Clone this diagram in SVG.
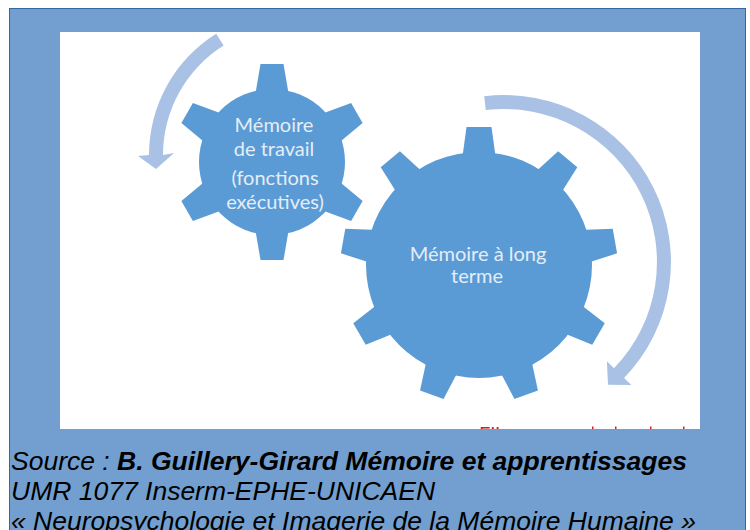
<svg xmlns="http://www.w3.org/2000/svg" width="750" height="530" viewBox="0 0 750 530">
<defs>
<style>
.gear{fill:#5b9bd5}
.glabel{font-family:Lato,"Open Sans","Liberation Sans",sans-serif;font-size:20px;fill:#e4edf7;text-anchor:middle}
.arrow{fill:#a9c1e4}
.cap{font-family:"Liberation Sans",Arial,sans-serif;font-size:26.5px;font-style:italic;fill:#000}
</style>
<polygon id="toothS" points="-17,-66 -11.5,-98 11.5,-98 17,-66"/>
<polygon id="toothL" points="-17,-105 -12.5,-138 12.5,-138 17,-105"/>
<clipPath id="imgclip"><rect x="60" y="32" width="640" height="397"/></clipPath>
</defs>
<g id="frame">
<rect x="9.5" y="8.5" width="736" height="540" fill="#729fcf" stroke="#3465a4"/>
<rect x="60" y="32" width="640" height="397" fill="#fff"/>
</g>
<g id="connectors">
<path class="arrow" d="M 216.2 33.7 A 143 143 0 0 0 149 155 L 138 156 L 156 169 L 174 153 L 163 155 A 129 129 0 0 1 223.6 45.6 Z"/>
<path class="arrow" d="M 484.2 96.2 A 167 167 0 0 1 624.1 378.0 L 631.3 385.0 L 608.0 384.7 L 606.9 361.3 L 614.0 368.3 A 153 153 0 0 0 485.8 110.1 Z"/>
</g>
<g id="gear-working-memory" transform="translate(272,162)">
<circle class="gear" r="73"/>
<use href="#toothS" class="gear"/>
<use href="#toothS" class="gear" transform="rotate(60)"/>
<use href="#toothS" class="gear" transform="rotate(120)"/>
<use href="#toothS" class="gear" transform="rotate(180)"/>
<use href="#toothS" class="gear" transform="rotate(240)"/>
<use href="#toothS" class="gear" transform="rotate(300)"/>
<text class="glabel" x="2" y="-30">Mémoire</text>
<text class="glabel" x="2" y="-6">de travail</text>
<text class="glabel" x="3" y="23">(fonctions</text>
<text class="glabel" x="3" y="47">exécutives)</text>
</g>
<g id="gear-long-term-memory" transform="translate(479,265)">
<circle class="gear" r="113"/>
<use href="#toothL" class="gear"/>
<use href="#toothL" class="gear" transform="rotate(40)"/>
<use href="#toothL" class="gear" transform="rotate(80)"/>
<use href="#toothL" class="gear" transform="rotate(120)"/>
<use href="#toothL" class="gear" transform="rotate(160)"/>
<use href="#toothL" class="gear" transform="rotate(200)"/>
<use href="#toothL" class="gear" transform="rotate(240)"/>
<use href="#toothL" class="gear" transform="rotate(280)"/>
<use href="#toothL" class="gear" transform="rotate(320)"/>
<text class="glabel" x="-1" y="-4">Mémoire à long</text>
<text class="glabel" x="-2" y="18">terme</text>
</g>
<g id="red-note" clip-path="url(#imgclip)" fill="#d42020">
<text x="479" y="440.5" font-family="Lato,'Liberation Sans',sans-serif" font-size="20">Elle</text>
<rect x="592" y="426.5" width="1.5" height="3"/>
<rect x="615" y="426.5" width="1.5" height="3"/>
<rect x="650" y="426.5" width="1.5" height="3"/>
<rect x="683" y="426.5" width="1.5" height="3"/>
</g>
<g id="caption">
<text class="cap" x="11" y="470">Source : <tspan font-weight="bold">B. Guillery-Girard Mémoire et apprentissages</tspan></text>
<text class="cap" x="11" y="499.5">UMR 1077 Inserm-EPHE-UNICAEN</text>
<text class="cap" x="11" y="529.5">« Neuropsychologie et Imagerie de la Mémoire Humaine »</text>
</g>
</svg>
